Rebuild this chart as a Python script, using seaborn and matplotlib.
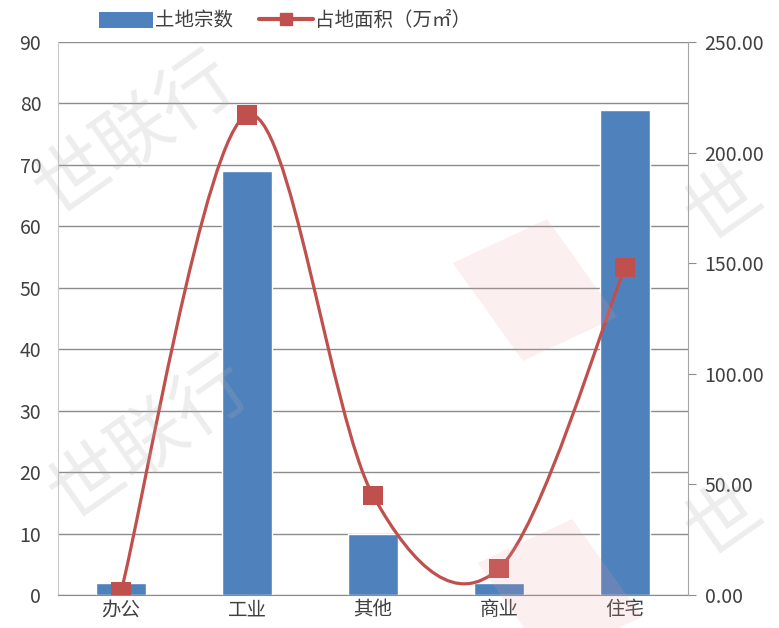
import matplotlib
matplotlib.use('Agg')
import matplotlib.pyplot as plt
import numpy as np
import seaborn as sns
from matplotlib.path import Path
from matplotlib.patches import PathPatch, Patch, Rectangle
from matplotlib.lines import Line2D

# data
categories = ['办公', '工业', '其他', '商业', '住宅']
land_count = [2, 69, 10, 2, 79]
land_area = [1.5, 217, 45, 12, 148]
count_label = '土地宗数'
area_label = '占地面积（万㎡）'

left_ticks = list(range(0, 91, 10))
right_ticks = [0, 50, 100, 150, 200, 250]

bar_color = '#4F81BD'
line_color = '#C0504D'
grid_color = '#8c8c8c'
text_color = '#404040'

sns.set_style('white')
plt.rcParams['font.family'] = ['Noto Sans CJK SC', 'DejaVu Sans']

fig = plt.figure(figsize=(7.79, 6.28), dpi=100)
ax = fig.add_axes([58 / 779, 33 / 628, 630 / 779, 553 / 628])

# bars on the left axis
sns.barplot(x=categories, y=land_count, ax=ax, color=bar_color,
            width=0.4, saturation=1, zorder=2)
ax.set_xlim(-0.5, len(categories) - 0.5)
ax.set_ylim(0, 90)
ax.set_yticks(left_ticks)
ax.yaxis.grid(True, color=grid_color, lw=1)
ax.set_axisbelow(True)
ax.tick_params(axis='y', length=0, pad=12, labelsize=14, labelcolor=text_color)
ax.tick_params(axis='x', which='major', length=0, pad=3, labelsize=14, labelcolor=text_color)
ax.set_xticks(np.arange(0.5, len(categories) - 1), minor=True)
ax.tick_params(axis='x', which='minor', length=25, width=1, color='#bfbfbf')
ax.set_xlabel('')
ax.set_ylabel('')
for s in ['top', 'right']:
    ax.spines[s].set_visible(False)
ax.spines['left'].set_color('#c8c8c8')
ax.spines['bottom'].set_color(grid_color)

# smoothed line on the right axis
ax2 = ax.twinx()
ax2.set_ylim(0, 250)
ax2.set_yticks(right_ticks)
ax2.set_yticklabels([f'{v:.2f}' for v in right_ticks])
ax2.tick_params(axis='y', length=6, color=grid_color, pad=6, labelsize=14, labelcolor=text_color)
for s in ['top', 'left', 'bottom']:
    ax2.spines[s].set_visible(False)
ax2.spines['right'].set_color('#a6a6a6')

pts = np.column_stack([np.arange(len(categories)), land_area]).astype(float)
verts = [pts[0]]
codes = [Path.MOVETO]
n = len(pts)
for i in range(n - 1):
    p0 = pts[max(i - 1, 0)]
    p1 = pts[i]
    p2 = pts[i + 1]
    p3 = pts[min(i + 2, n - 1)]
    verts += [p1 + (p2 - p0) / 6, p2 - (p3 - p1) / 6, p2]
    codes += [Path.CURVE4] * 3
ax2.add_patch(PathPatch(Path(verts, codes), fill=False, edgecolor=line_color, lw=2.3, zorder=3))
sns.scatterplot(x=np.arange(n), y=land_area, ax=ax2, marker='s', s=200,
                color=line_color, edgecolor='none', zorder=4)
ax2.set_xlim(-0.5, len(categories) - 0.5)

# legend
handles = [Patch(facecolor=bar_color, edgecolor='none'),
           Line2D([], [], color=line_color, lw=3, marker='s', markersize=8)]
fig.legend(handles, [count_label, area_label], loc='center', ncol=2,
           bbox_to_anchor=(285 / 779, 1 - 21 / 628), frameon=False,
           fontsize=14, handlelength=2.8, handleheight=0.9, handletextpad=0.1,
           columnspacing=1.3, labelcolor=text_color)

# faint watermark
wm = dict(fontsize=54, color='#b0b0b0', alpha=0.22, rotation=35,
          ha='center', va='center', zorder=10)
fig.text(135 / 779, 1 - 135 / 628, '世联行', **wm)
fig.text(150 / 779, 1 - 440 / 628, '世联行', **wm)
fig.text(725 / 779, 1 - 205 / 628, '世', **wm)
fig.text(725 / 779, 1 - 520 / 628, '世', **wm)
for cx, cy in [(535, 290), (560, 590)]:
    fig.patches.append(Rectangle((cx / 779 - 0.07, 1 - cy / 628 - 0.09), 0.14, 0.18,
                                 transform=fig.transFigure, angle=30,
                                 rotation_point='center', facecolor='#e8a0a0',
                                 alpha=0.16, edgecolor='none', zorder=10))

fig.savefig('out.png', dpi=100)
